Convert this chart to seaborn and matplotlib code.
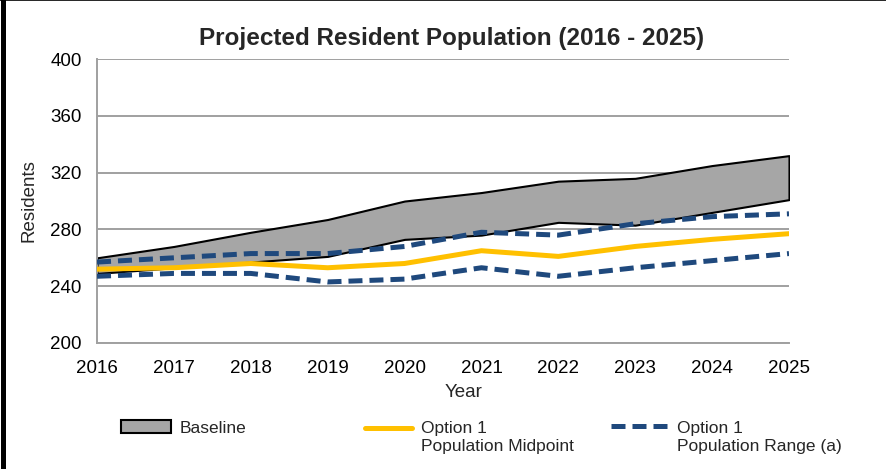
import matplotlib
matplotlib.use("Agg")
import matplotlib.pyplot as plt
from matplotlib.patches import Patch
from matplotlib.lines import Line2D
from matplotlib.legend_handler import HandlerLine2D
import seaborn as sns
import pandas as pd

years = [2016, 2017, 2018, 2019, 2020, 2021, 2022, 2023, 2024, 2025]
baseline_high = [260, 268, 278, 287, 300, 306, 314, 316, 325, 332]
baseline_low = [249, 253, 257, 261, 273, 276, 285, 283, 292, 301]
midpoint = [252, 253, 256, 253, 256, 265, 261, 268, 273, 277]
range_high = [257, 260, 263, 263, 268, 278, 276, 284, 289, 291]
range_low = [247, 249, 249, 243, 245, 253, 247, 253, 258, 263]
y_ticks = [200, 240, 280, 320, 360, 400]

YELLOW = '#FFC000'
BLUE = '#1F497D'
GREY = '#A6A6A6'
AXIS = '#A0A0A0'


class RaisedLine(HandlerLine2D):
    # put the legend line next to the first line of a two-line label
    def __init__(self, shift, **kw):
        super().__init__(**kw)
        self.shift = shift

    def create_artists(self, legend, orig_handle, xdescent, ydescent,
                       width, height, fontsize, trans):
        arts = super().create_artists(legend, orig_handle, xdescent, ydescent,
                                      width, height, fontsize, trans)
        for a in arts:
            a.set_ydata([y + self.shift for y in a.get_ydata()])
        return arts


def main():
    sns.set_style("white")
    plt.rcParams['font.family'] = ['Liberation Sans', 'DejaVu Sans']

    df = pd.DataFrame({'year': years, 'low': baseline_low, 'high': baseline_high,
                       'mid': midpoint, 'r_hi': range_high, 'r_lo': range_low})

    fig, ax = plt.subplots(figsize=(8.86, 4.69), dpi=100)
    fig.subplots_adjust(left=0.1095, right=0.8905, bottom=0.2687, top=0.874)

    ax.fill_between(df['year'], df['low'], df['high'], facecolor=GREY,
                    edgecolor='black', linewidth=1.5, zorder=2)
    sns.lineplot(data=df, x='year', y='mid', color=YELLOW, linewidth=3.6,
                 ax=ax, zorder=3)
    for col in ['r_lo', 'r_hi']:
        sns.lineplot(data=df, x='year', y=col, color=BLUE, linewidth=3.6,
                     linestyle=(0, (2.8, 1.4)), ax=ax, zorder=4)

    ax.set_xlim(2016, 2025)
    ax.set_ylim(200, 400)
    ax.set_xticks(years)
    ax.set_yticks(y_ticks)
    ax.grid(axis='y', color=AXIS, linewidth=1.4, zorder=1)
    ax.set_axisbelow(True)
    for s in ['top', 'right']:
        ax.spines[s].set_visible(False)
    for s in ['left', 'bottom']:
        ax.spines[s].set_color(AXIS)
        ax.spines[s].set_linewidth(1.4)
    ax.tick_params(axis='both', which='both', direction='out', color=AXIS,
                   width=1.4, length=5, labelsize=13.5, labelcolor='black')
    ax.tick_params(axis='x', pad=7)
    ax.tick_params(axis='y', pad=6)
    ax.set_xlabel('Year', fontsize=13.5, labelpad=0)
    ax.xaxis.set_label_coords(0.53, -0.145)
    ax.set_ylabel('Residents', fontsize=13.5, labelpad=9)
    ax.set_title('Projected Resident Population (2016 - 2025)', fontsize=17.5,
                 fontweight='bold', pad=10, x=0.512)

    # legend entries, one per column
    common = dict(frameon=False, fontsize=12.5, borderpad=0, borderaxespad=0,
                  handletextpad=0.5, loc='center left')
    fig.legend([Patch(facecolor=GREY, edgecolor='black', linewidth=1.5)],
               ['Baseline'], bbox_to_anchor=(121 / 886, 1 - 428 / 469),
               handlelength=2.9, handleheight=0.7, **common)
    mid_handle = Line2D([], [], color=YELLOW, linewidth=3.6)
    fig.legend([mid_handle], ['Option 1\nPopulation Midpoint'],
               bbox_to_anchor=(365 / 886, 1 - 437.5 / 469),
               handlelength=2.7, handler_map={mid_handle: RaisedLine(6.5)},
               **common)
    rng_handle = Line2D([], [], color=BLUE, linewidth=3.6,
                        linestyle=(0, (2.8, 1.4)))
    fig.legend([rng_handle], ['Option 1\nPopulation Range (a)'],
               bbox_to_anchor=(611 / 886, 1 - 437.5 / 469),
               handlelength=3.3, handler_map={rng_handle: RaisedLine(8.5)},
               **common)

    # frame of the original picture
    fig.add_artist(Line2D([0.003, 0.003], [0, 1], color='black', linewidth=3.6,
                          transform=fig.transFigure))
    fig.add_artist(Line2D([0, 1], [0.999, 0.999], color='black', linewidth=1.2,
                          transform=fig.transFigure))

    fig.savefig('out.png', dpi=100)


if __name__ == "__main__":
    main()
